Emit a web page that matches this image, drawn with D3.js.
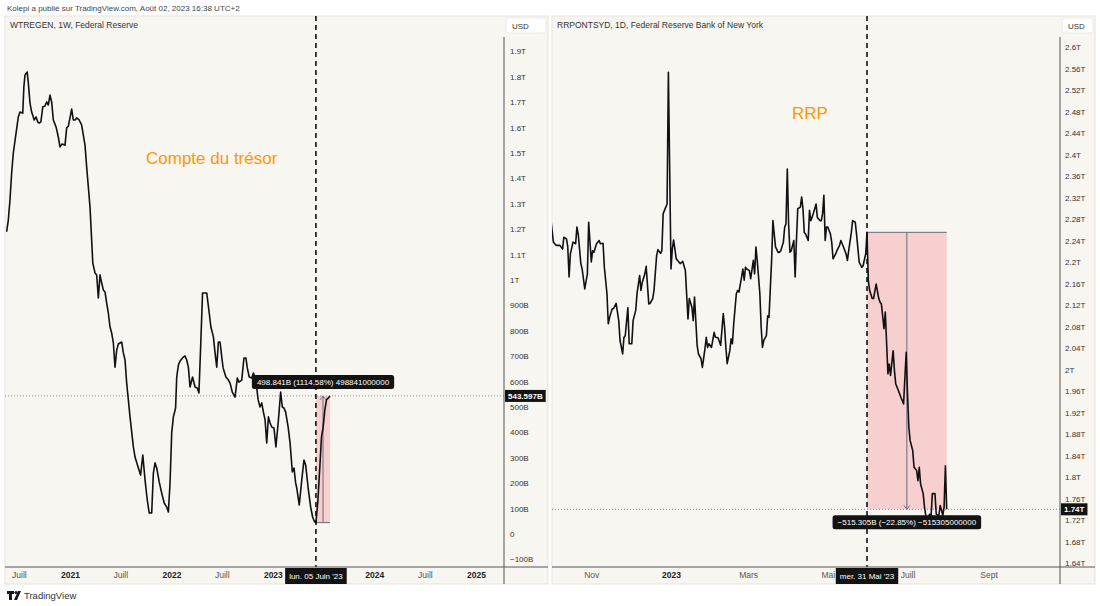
<!DOCTYPE html>
<html>
<head>
<meta charset="utf-8">
<script src="https://cdn.jsdelivr.net/npm/d3@7"></script>
<style>
  body { margin: 0; background: #fff; }
  svg { display: block; font-family: "Liberation Sans", Arial, sans-serif; }
  .tick text { fill: #333; font-size: 8px; }
  .xax .tick text { font-size: 8.5px; fill: #555; }
  .xax .tick text.year { font-weight: bold; fill: #222; }
</style>
</head>
<body>
<svg id="chart" width="1100" height="606"></svg>
<script>
// Treasury General Account (WTREGEN, weekly), billions USD
const tgaSeries = [
  ["2020-05-18",1190],["2020-05-24",1236],["2020-05-30",1315],["2020-06-05",1421],["2020-06-11",1500],
  ["2020-06-21",1579],["2020-06-29",1642],["2020-07-05",1661],["2020-07-15",1657],["2020-07-19",1760],
  ["2020-07-23",1807],["2020-07-31",1819],["2020-08-04",1776],["2020-08-10",1697],["2020-08-16",1661],
  ["2020-08-22",1642],["2020-08-25",1630],["2020-09-01",1642],["2020-09-07",1622],["2020-09-12",1618],
  ["2020-09-18",1622],["2020-09-25",1681],["2020-10-03",1685],["2020-10-09",1701],["2020-10-15",1689],
  ["2020-10-21",1728],["2020-10-27",1701],["2020-11-02",1630],["2020-11-12",1602],["2020-11-20",1563],
  ["2020-11-26",1524],["2020-12-03",1535],["2020-12-14",1531],["2020-12-20",1598],["2020-12-26",1606],
  ["2021-01-01",1638],["2021-01-07",1673],["2021-01-13",1630],["2021-01-19",1630],["2021-01-25",1638],
  ["2021-02-03",1630],["2021-02-12",1610],["2021-02-24",1531],["2021-03-02",1445],["2021-03-08",1366],
  ["2021-03-14",1287],["2021-03-20",1157],["2021-03-24",1067],["2021-04-01",1028],["2021-04-07",1020],
  ["2021-04-13",929],["2021-04-19",1020],["2021-04-25",988],["2021-05-01",961],["2021-05-07",953],
  ["2021-05-13",909],["2021-05-19",870],["2021-05-25",815],["2021-05-31",791],["2021-06-06",752],
  ["2021-06-12",657],["2021-06-18",724],["2021-06-24",748],["2021-07-06",756],["2021-07-12",713],
  ["2021-07-18",685],["2021-07-24",594],["2021-07-30",528],["2021-08-05",461],["2021-08-17",343],
  ["2021-08-23",303],["2021-09-04",260],["2021-09-12",232],["2021-09-20",311],["2021-09-28",213],
  ["2021-10-06",134],["2021-10-13",83],["2021-10-22",83],["2021-10-28",240],["2021-11-03",280],
  ["2021-11-09",260],["2021-11-18",205],["2021-11-27",161],["2021-12-06",122],["2021-12-15",106],
  ["2021-12-21",87],["2021-12-27",201],["2022-01-02",398],["2022-01-08",461],["2022-01-16",496],
  ["2022-01-20",618],["2022-01-26",665],["2022-02-01",681],["2022-02-10",693],["2022-02-19",701],
  ["2022-02-25",685],["2022-03-03",657],["2022-03-09",579],["2022-03-18",618],["2022-03-27",579],
  ["2022-04-04",575],["2022-04-10",555],["2022-04-17",764],["2022-04-23",949],["2022-05-08",949],
  ["2022-05-17",870],["2022-05-23",815],["2022-06-01",776],["2022-06-07",713],["2022-06-13",657],
  ["2022-06-19",756],["2022-06-25",756],["2022-07-01",697],["2022-07-06",654],["2022-07-16",618],
  ["2022-07-25",606],["2022-07-31",594],["2022-08-08",559],["2022-08-18",539],["2022-08-26",614],
  ["2022-09-01",598],["2022-09-11",606],["2022-09-19",693],["2022-09-26",693],["2022-10-01",654],
  ["2022-10-08",618],["2022-10-17",614],["2022-10-23",634],["2022-10-29",614],["2022-11-04",575],
  ["2022-11-09",528],["2022-11-16",500],["2022-11-22",516],["2022-11-28",480],["2022-12-04",449],
  ["2022-12-10",358],["2022-12-16",461],["2022-12-22",437],["2022-12-28",421],["2023-01-05",417],
  ["2023-01-12",343],["2023-01-21",449],["2023-01-29",559],["2023-02-04",500],["2023-02-10",496],
  ["2023-02-16",480],["2023-02-25",421],["2023-03-04",358],["2023-03-12",244],["2023-03-18",260],
  ["2023-03-24",201],["2023-03-28",181],["2023-04-06",114],["2023-04-15",213],["2023-04-23",291],
  ["2023-04-29",272],["2023-05-08",181],["2023-05-17",106],["2023-05-24",67],["2023-05-31",48],
  ["2023-06-05",44.756],["2023-06-12",130],["2023-06-19",264],["2023-06-25",382],["2023-07-01",421],
  ["2023-07-07",488],["2023-07-13",528],["2023-07-26",543.597]
];

// Overnight reverse repo (RRPONTSYD, daily), billions USD
const rrpSeries = [
  ["2022-09-30",2302],["2022-10-03",2237],["2022-10-05",2231],["2022-10-08",2231],["2022-10-10",2224],
  ["2022-10-11",2246],["2022-10-13",2243],["2022-10-14",2228],["2022-10-15",2172],["2022-10-16",2215],
  ["2022-10-18",2237],["2022-10-20",2234],["2022-10-21",2265],["2022-10-22",2252],["2022-10-24",2197],
  ["2022-10-25",2187],["2022-10-27",2150],["2022-10-29",2178],["2022-10-30",2274],["2022-11-01",2200],
  ["2022-11-02",2221],["2022-11-03",2218],["2022-11-05",2234],["2022-11-07",2240],["2022-11-08",2234],
  ["2022-11-10",2235],["2022-11-11",2190],["2022-11-13",2141],["2022-11-14",2085],["2022-11-15",2097],
  ["2022-11-17",2113],["2022-11-18",2113],["2022-11-20",2123],["2022-11-22",2091],["2022-11-23",2054],
  ["2022-11-25",2029],["2022-11-26",2060],["2022-11-27",2063],["2022-11-29",2115],["2022-11-30",2048],
  ["2022-12-02",2048],["2022-12-03",2091],["2022-12-05",2110],["2022-12-06",2141],["2022-12-08",2175],
  ["2022-12-09",2147],["2022-12-10",2162],["2022-12-12",2178],["2022-12-13",2192],["2022-12-15",2122],
  ["2022-12-16",2123],["2022-12-18",2132],["2022-12-19",2147],["2022-12-21",2212],["2022-12-22",2223],
  ["2022-12-24",2216],["2022-12-25",2221],["2022-12-26",2290],["2022-12-29",2308],["2022-12-30",2553],
  ["2023-01-01",2187],["2023-01-02",2224],["2023-01-03",2241],["2023-01-05",2206],["2023-01-07",2200],
  ["2023-01-08",2197],["2023-01-10",2201],["2023-01-12",2184],["2023-01-14",2094],["2023-01-15",2132],
  ["2023-01-17",2116],["2023-01-18",2091],["2023-01-19",2135],["2023-01-21",2045],["2023-01-22",2029],
  ["2023-01-24",2020],["2023-01-25",2004],["2023-01-27",2039],["2023-01-28",2060],["2023-01-29",2041],
  ["2023-01-30",2048],["2023-02-01",2041],["2023-02-03",2069],["2023-02-04",2060],["2023-02-06",2059],
  ["2023-02-08",2045],["2023-02-10",2104],["2023-02-11",2079],["2023-02-12",2041],["2023-02-13",2011],
  ["2023-02-15",2035],["2023-02-16",2057],["2023-02-17",2048],["2023-02-18",2085],["2023-02-20",2141],
  ["2023-02-21",2147],["2023-02-22",2144],["2023-02-24",2172],["2023-02-25",2187],["2023-02-26",2166],
  ["2023-02-27",2190],["2023-02-28",2187],["2023-03-02",2184],["2023-03-03",2169],["2023-03-05",2203],
  ["2023-03-06",2178],["2023-03-07",2228],["2023-03-08",2203],["2023-03-10",2141],["2023-03-11",2079],
  ["2023-03-12",2041],["2023-03-13",2054],["2023-03-15",2063],["2023-03-16",2100],["2023-03-17",2097],
  ["2023-03-19",2203],["2023-03-20",2277],["2023-03-21",2252],["2023-03-22",2228],["2023-03-24",2218],
  ["2023-03-25",2218],["2023-03-26",2221],["2023-03-28",2237],["2023-03-29",2265],["2023-03-30",2271],
  ["2023-03-31",2373],["2023-04-01",2271],["2023-04-02",2218],["2023-04-03",2221],["2023-04-05",2240],
  ["2023-04-06",2172],["2023-04-07",2240],["2023-04-08",2299],["2023-04-10",2302],["2023-04-11",2321],
  ["2023-04-12",2299],["2023-04-13",2255],["2023-04-14",2252],["2023-04-16",2240],["2023-04-17",2296],
  ["2023-04-18",2277],["2023-04-19",2283],["2023-04-21",2299],["2023-04-22",2308],["2023-04-23",2283],
  ["2023-04-25",2277],["2023-04-26",2277],["2023-04-27",2290],["2023-04-28",2324],["2023-04-29",2240],
  ["2023-04-30",2265],["2023-05-01",2265],["2023-05-03",2252],["2023-05-04",2237],["2023-05-05",2206],
  ["2023-05-07",2215],["2023-05-08",2221],["2023-05-10",2231],["2023-05-11",2240],["2023-05-13",2228],
  ["2023-05-15",2215],["2023-05-16",2203],["2023-05-17",2221],["2023-05-19",2255],["2023-05-20",2277],
  ["2023-05-22",2274],["2023-05-23",2252],["2023-05-25",2200],["2023-05-27",2190],["2023-05-28",2193],
  ["2023-05-30",2215],["2023-05-31",2255.2],["2023-06-01",2166],["2023-06-02",2147],["2023-06-04",2132],
  ["2023-06-05",2132],["2023-06-07",2159],["2023-06-09",2132],["2023-06-10",2125],["2023-06-11",2122],
  ["2023-06-13",2076],["2023-06-14",2107],["2023-06-16",1992],["2023-06-17",2010],["2023-06-18",1989],
  ["2023-06-20",2035],["2023-06-21",1998],["2023-06-22",1973],["2023-06-24",1961],["2023-06-26",1948],
  ["2023-06-28",1936],["2023-06-30",2032],["2023-07-01",1955],["2023-07-02",1893],["2023-07-03",1868],
  ["2023-07-05",1849],["2023-07-06",1818],["2023-07-08",1812],["2023-07-09",1793],["2023-07-10",1818],
  ["2023-07-11",1787],["2023-07-13",1769],["2023-07-14",1744],["2023-07-15",1728],["2023-07-16",1722],
  ["2023-07-18",1731],["2023-07-19",1725],["2023-07-20",1769],["2023-07-22",1769],["2023-07-23",1731],
  ["2023-07-25",1728],["2023-07-26",1747],["2023-07-27",1738],["2023-07-28",1728],["2023-07-29",1744],
  ["2023-07-30",1821],["2023-07-31",1739.9]
];

// price scale ticks (billions)
const tgaTicks = [-100, 0, 100, 200, 300, 400, 500, 600, 700, 800, 900, 1000,
                  1100, 1200, 1300, 1400, 1500, 1600, 1700, 1800, 1900];
const rrpTicks = [1640, 1680, 1720, 1760, 1800, 1840, 1880, 1920, 1960, 2000, 2040, 2080, 2120,
                  2160, 2200, 2240, 2280, 2320, 2360, 2400, 2440, 2480, 2520, 2560, 2600];

// time scale labels
const tgaTimeLabels = [["2020-07-01","Juill"],["2021-01-01","2021"],["2021-07-01","Juill"],["2022-01-01","2022"],
  ["2022-07-01","Juill"],["2023-01-01","2023"],["2023-07-01","Juill"],["2024-01-01","2024"],
  ["2024-07-01","Juill"],["2025-01-01","2025"]];
const rrpTimeLabels = [["2022-11-01","Nov"],["2023-01-01","2023"],["2023-03-01","Mars"],["2023-05-01","Mai"],
  ["2023-07-01","Juill"],["2023-09-01","Sept"]];

// date-price range measurements: [from, to, start value, end value, label]
const tgaMeasure = ["2023-06-05", "2023-07-26", 44.756, 543.597, "498.841B (1114.58%) 498841000000"];
const rrpMeasure = ["2023-05-31", "2023-07-31", 2255.2, 1739.9, "\u2212515.305B (\u221222.85%) \u2212515305000000"];

const parse = d3.timeParse("%Y-%m-%d");
const svg = d3.select("#chart");

svg.append("rect").attr("width", 1100).attr("height", 606).attr("fill", "#fff");
svg.append("text").attr("x", 7).attr("y", 11).attr("font-size", 8).attr("fill", "#444")
  .text("Kolepi a publié sur TradingView.com, Août 02, 2023 16:38 UTC+2");

// TradingView footer
const logo = svg.append("g").attr("fill", "#131722");
logo.append("path").attr("d", "M7 591h7v3h-2v6h-3v-6h-2z");
logo.append("circle").attr("cx", 16).attr("cy", 592.5).attr("r", 1.5);
logo.append("path").attr("d", "M18 591h3l-4 9h-3z");
svg.append("text").attr("x", 24).attr("y", 599).attr("font-size", 9.5).attr("fill", "#333").text("TradingView");

function fmtPrice(v) {
  if (v === 0) return "0";
  const s = Math.abs(v) >= 1000 ? (+(Math.abs(v) / 1000).toFixed(2)) + "T" : Math.abs(v) + "B";
  return v < 0 ? "\u2212" + s : s;
}

function drawPanel(cfg) {
  const g = svg.append("g");
  const top = 16, bottom = 567, panelBottom = 584;
  const left = cfg.left, axisX = cfg.axisX, right = cfg.left + cfg.width;

  g.append("rect").attr("x", left).attr("y", top).attr("width", cfg.width).attr("height", panelBottom - top)
    .attr("fill", "#f8f6f1").attr("stroke", "#e6e3dc");

  const x = d3.scaleTime().domain(cfg.xDomain.map(parse)).range(cfg.xRange);
  const y = d3.scaleLinear().domain(cfg.yDomain).range(cfg.yRange);

  const clipId = "clip-" + cfg.name;
  svg.append("clipPath").attr("id", clipId).append("rect")
    .attr("x", left).attr("y", top).attr("width", axisX - left).attr("height", bottom - top);
  const plot = g.append("g").attr("clip-path", `url(#${clipId})`);

  // measurement box
  const [mFrom, mTo, mStart, mEnd, mLabel] = cfg.measure;
  const mx1 = x(parse(mFrom)), mx2 = x(parse(mTo));
  const my1 = y(mStart), my2 = y(mEnd);
  const mxMid = (mx1 + mx2) / 2;
  plot.append("rect").attr("x", mx1).attr("width", mx2 - mx1)
    .attr("y", Math.min(my1, my2)).attr("height", Math.abs(my1 - my2))
    .attr("fill", "rgba(242,54,69,0.2)");
  plot.append("line").attr("x1", mx1).attr("x2", mx2).attr("y1", my1).attr("y2", my1)
    .attr("stroke", "#6a6d78").attr("stroke-width", 1);
  plot.append("line").attr("x1", mxMid).attr("x2", mxMid).attr("y1", my1).attr("y2", my2)
    .attr("stroke", "#6a6d78").attr("stroke-width", 1);
  const dir = my2 < my1 ? 1 : -1;
  plot.append("path")
    .attr("d", `M${mxMid - 3},${my2 + dir * 4}L${mxMid},${my2}L${mxMid + 3},${my2 + dir * 4}`)
    .attr("fill", "none").attr("stroke", "#6a6d78").attr("stroke-width", 1);

  // last value dotted line
  const last = cfg.series[cfg.series.length - 1];
  plot.append("line").attr("x1", left).attr("x2", axisX).attr("y1", y(last[1])).attr("y2", y(last[1]))
    .attr("stroke", "#888").attr("stroke-width", 1).attr("stroke-dasharray", "1,2");

  // series line
  const line = d3.line().x(d => x(parse(d[0]))).y(d => y(d[1]));
  plot.append("path").datum(cfg.series).attr("d", line)
    .attr("fill", "none").attr("stroke", "#111").attr("stroke-width", 1.6).attr("stroke-linejoin", "round");

  // vertical dashed marker
  const vx = x(parse(cfg.marker));
  g.append("line").attr("x1", vx).attr("x2", vx).attr("y1", top).attr("y2", bottom)
    .attr("stroke", "#111").attr("stroke-width", 1.6).attr("stroke-dasharray", "5,4");

  // measurement label
  const lbl = g.append("g");
  const lt = lbl.append("text").attr("x", mxMid).attr("text-anchor", "middle")
    .attr("font-size", 8).attr("fill", "#fff").text(mLabel);
  const lw = lt.node().getComputedTextLength() + 10;
  const boxY = dir > 0 ? Math.min(my1, my2) - 21 : Math.max(my1, my2) + 6;
  lbl.insert("rect", "text").attr("x", mxMid - lw / 2).attr("y", boxY).attr("width", lw).attr("height", 14)
    .attr("rx", 2.5).attr("fill", "#131313");
  lt.attr("y", boxY + 10);

  // orange annotation
  g.append("text").attr("x", cfg.note[1]).attr("y", cfg.note[2]).attr("font-size", 17)
    .attr("fill", "#ff9800").text(cfg.note[0]);

  // title
  g.append("text").attr("x", left + 5).attr("y", 28).attr("font-size", 8.5).attr("fill", "#333").text(cfg.title);

  // axes frame
  g.append("line").attr("x1", left).attr("x2", right).attr("y1", bottom).attr("y2", bottom)
    .attr("stroke", "#555").attr("stroke-width", 1);
  g.append("line").attr("x1", axisX).attr("x2", axisX).attr("y1", 37).attr("y2", panelBottom)
    .attr("stroke", "#555").attr("stroke-width", 1);

  // USD box
  g.append("rect").attr("x", axisX + 2).attr("y", 18).attr("width", right - axisX - 4).attr("height", 15)
    .attr("rx", 3).attr("fill", "#fff").attr("stroke", "#eeebe5");
  g.append("text").attr("x", axisX + 8).attr("y", 28.5).attr("font-size", 8).attr("fill", "#333").text("USD");

  // price axis
  const yAxis = g.append("g").attr("transform", `translate(${axisX},0)`)
    .call(d3.axisRight(y).tickValues(cfg.ticks).tickSize(0).tickPadding(cfg.pad).tickFormat(fmtPrice));
  yAxis.select(".domain").remove();

  // time axis
  const xAxis = g.append("g").attr("class", "xax").attr("transform", `translate(0,${bottom})`)
    .call(d3.axisBottom(x).tickValues(cfg.timeLabels.map(d => parse(d[0]))).tickSize(0).tickPadding(5)
      .tickFormat((d, i) => cfg.timeLabels[i][1]));
  xAxis.select(".domain").remove();
  xAxis.selectAll(".tick text").classed("year", (d, i) => /^\d{4}$/.test(cfg.timeLabels[i][1]));

  // date highlight on time axis
  const dg = g.append("g");
  const dt = dg.append("text").attr("x", vx).attr("y", 578.5).attr("text-anchor", "middle")
    .attr("font-size", 8).attr("fill", "#fff").text(cfg.markerLabel);
  const dw = dt.node().getComputedTextLength() + 8;
  dg.insert("rect", "text").attr("x", vx - dw / 2).attr("y", bottom + 1).attr("width", dw).attr("height", 16)
    .attr("fill", "#131313");

  // time labels hidden under the highlight are dropped, as on the original
  xAxis.selectAll(".tick").each(function (d) {
    const tx = x(d);
    const tw = this.querySelector("text").getComputedTextLength();
    if (tx + tw / 2 > vx - dw / 2 - 1 && tx - tw / 2 < vx + dw / 2 + 1) d3.select(this).remove();
  });

  // last value label on price axis
  const pg = g.append("g");
  const pt = pg.append("text").attr("x", axisX + 4).attr("y", y(last[1]) + 3).attr("font-size", 8)
    .attr("font-weight", "bold").attr("fill", "#fff").text(cfg.lastLabel);
  const pw = pt.node().getComputedTextLength() + 6;
  pg.insert("rect", "text").attr("x", axisX + 1).attr("y", y(last[1]) - 6).attr("width", pw).attr("height", 12)
    .attr("fill", "#131313");
}

drawPanel({
  name: "tga", left: 5, width: 543, axisX: 504,
  xDomain: ["2021-01-01", "2025-01-01"], xRange: [70, 476],
  yDomain: [0, 1900], yRange: [534, 51.4],
  series: tgaSeries, ticks: tgaTicks, timeLabels: tgaTimeLabels, pad: 6,
  marker: "2023-06-05", markerLabel: "lun. 05 Juin '23",
  measure: tgaMeasure, lastLabel: "543.597B",
  note: ["Compte du trésor", 146, 164],
  title: "WTREGEN, 1W, Federal Reserve"
});

drawPanel({
  name: "rrp", left: 552, width: 543, axisX: 1060,
  xDomain: ["2023-01-01", "2023-05-31"], xRange: [671, 867],
  yDomain: [1640, 2600], yRange: [563, 47],
  series: rrpSeries, ticks: rrpTicks, timeLabels: rrpTimeLabels, pad: 5,
  marker: "2023-05-31", markerLabel: "mer. 31 Mai '23",
  measure: rrpMeasure, lastLabel: "1.74T",
  note: ["RRP", 792, 119],
  title: "RRPONTSYD, 1D, Federal Reserve Bank of New York"
});
</script>
</body>
</html>
